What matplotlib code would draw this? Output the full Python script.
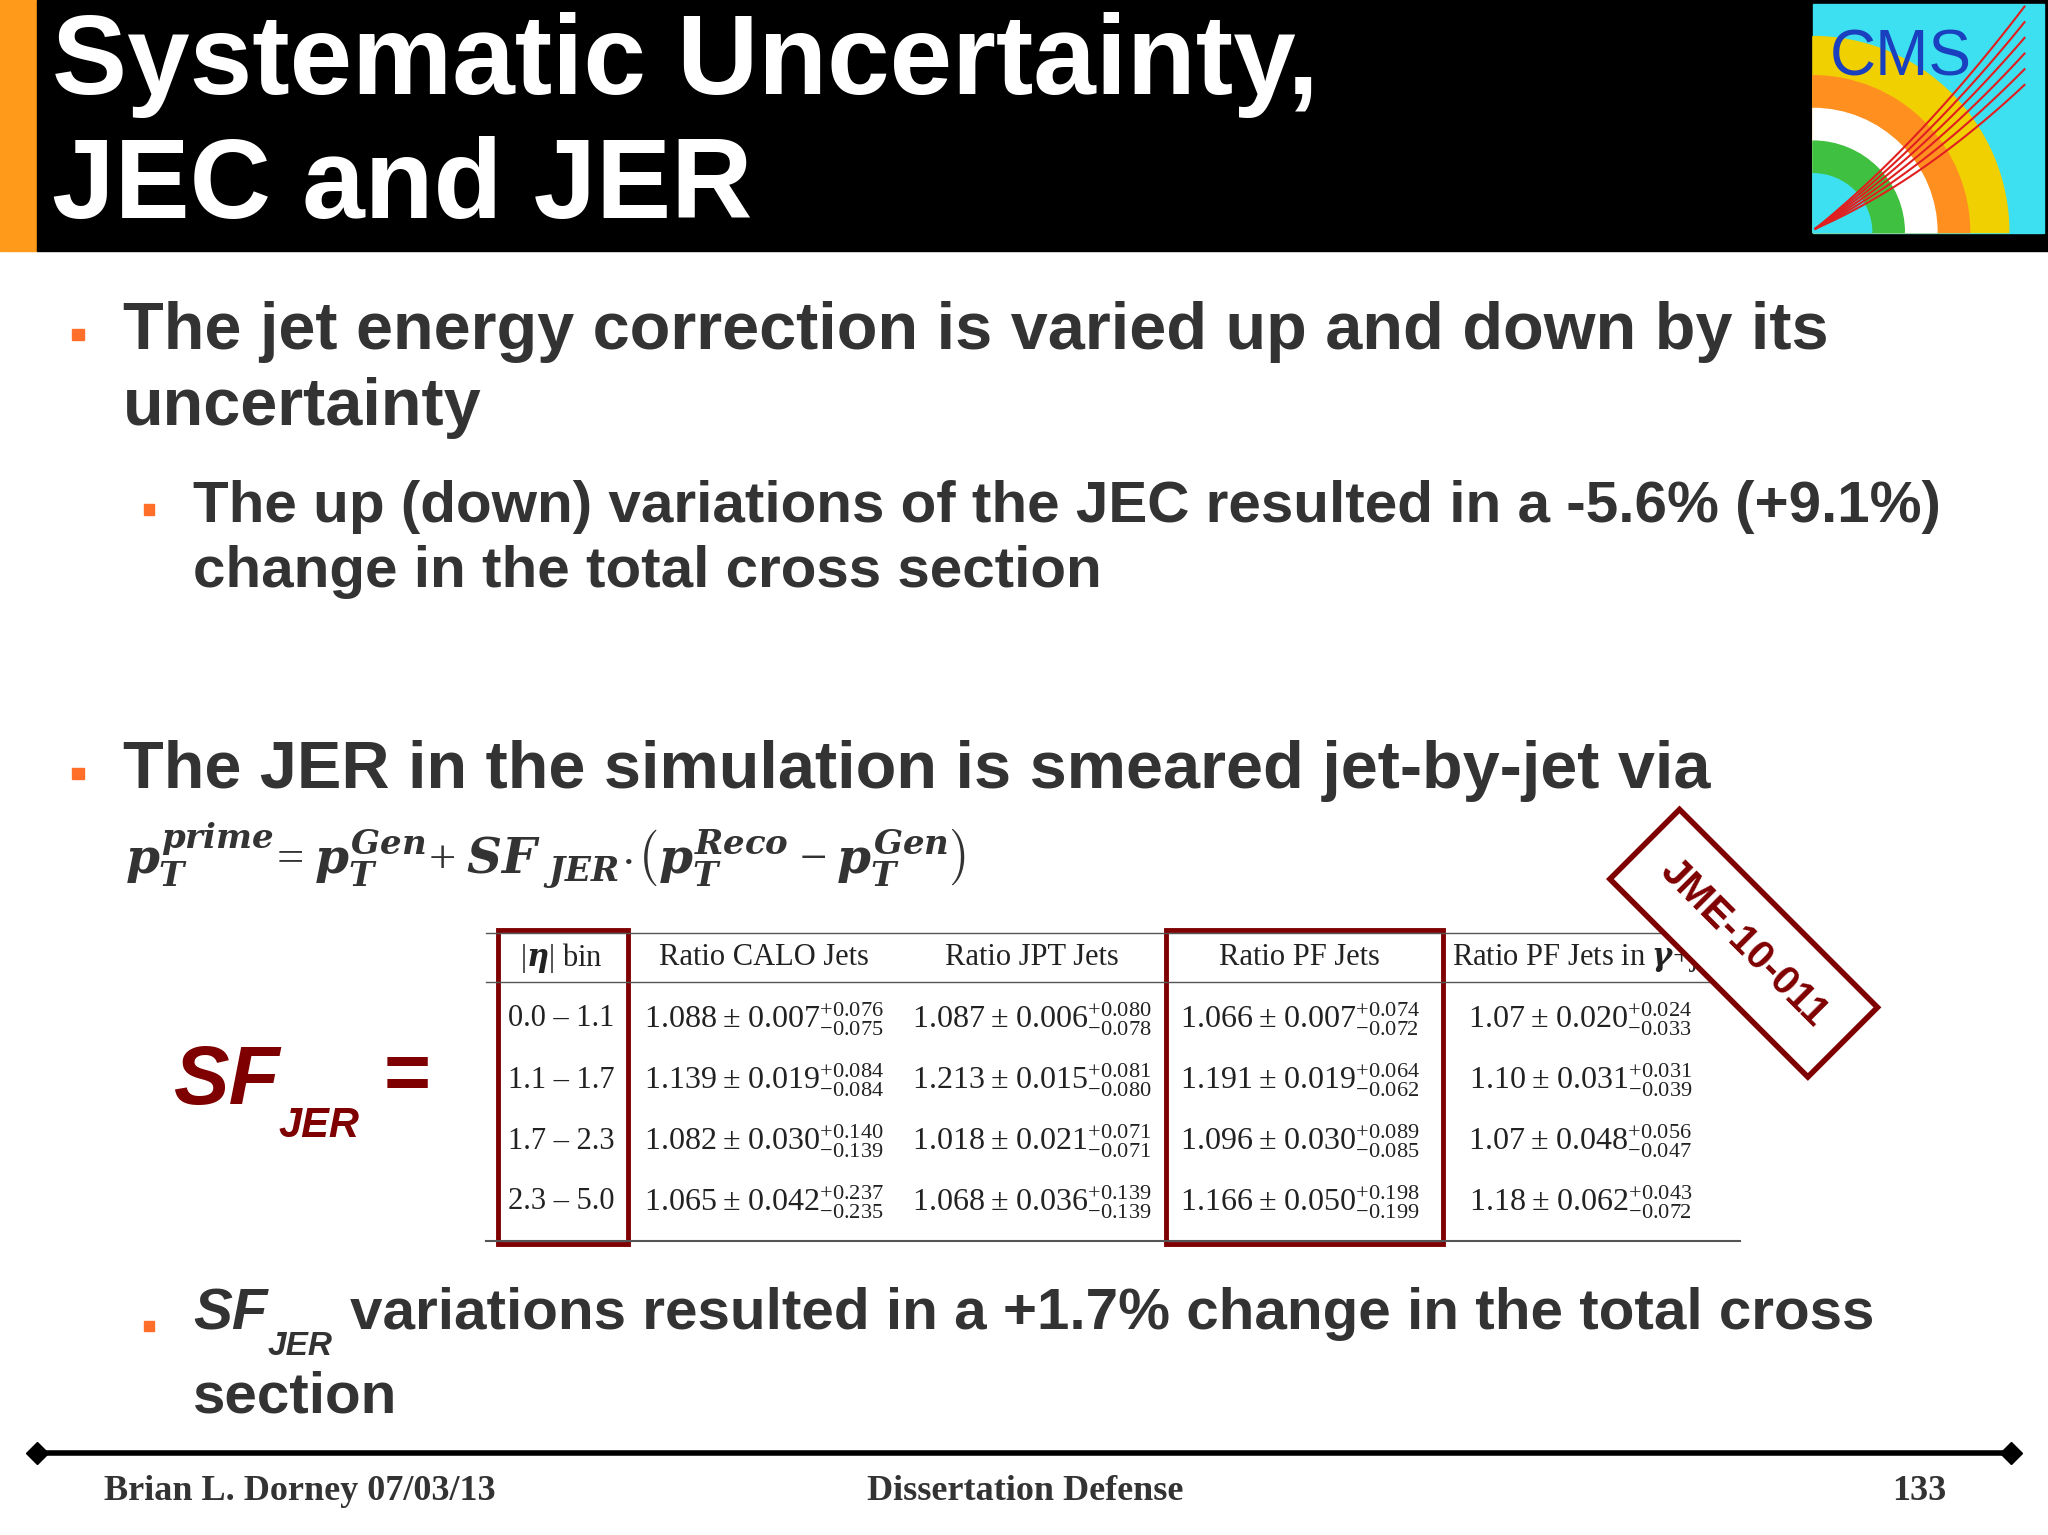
import numpy as np
import matplotlib.pyplot as plt
from matplotlib.patches import Rectangle, Wedge

plt.rcParams['mathtext.fontset'] = 'custom'
plt.rcParams['mathtext.it'] = 'DejaVu Serif:italic:bold'
plt.rcParams['mathtext.bf'] = 'DejaVu Serif:italic:bold'
plt.rcParams['mathtext.rm'] = 'Liberation Serif'

# table data
eta_bins = ['0.0 – 1.1', '1.1 – 1.7', '1.7 – 2.3', '2.3 – 5.0']
headers = [r'$|\eta|$ bin', 'Ratio CALO Jets', 'Ratio JPT Jets', 'Ratio PF Jets', r'Ratio PF Jets in $\gamma$+jets']
calo = [('1.088', '0.007', '0.076', '0.075'), ('1.139', '0.019', '0.084', '0.084'),
        ('1.082', '0.030', '0.140', '0.139'), ('1.065', '0.042', '0.237', '0.235')]
jpt = [('1.087', '0.006', '0.080', '0.078'), ('1.213', '0.015', '0.081', '0.080'),
       ('1.018', '0.021', '0.071', '0.071'), ('1.068', '0.036', '0.139', '0.139')]
pf = [('1.066', '0.007', '0.074', '0.072'), ('1.191', '0.019', '0.064', '0.062'),
      ('1.096', '0.030', '0.089', '0.085'), ('1.166', '0.050', '0.198', '0.199')]
gj = [('1.07', '0.020', '0.024', '0.033'), ('1.10', '0.031', '0.031', '0.039'),
      ('1.07', '0.048', '0.056', '0.047'), ('1.18', '0.062', '0.043', '0.072')]

W, H = 1568, 1175
fig = plt.figure(figsize=(20.48, 15.35), dpi=100)
ax = fig.add_axes([0, 0, 1, 1])
ax.set_xlim(0, W)
ax.set_ylim(H, 0)
ax.axis('off')

grey = '#333333'
orange = '#ff6f2a'
dred = '#7f0000'

# header
ax.add_patch(Rectangle((0, 0), 28, 192, color='#ff9a1a'))
ax.add_patch(Rectangle((28, 0), W - 28, 192, color='black'))
ax.text(40, 50, 'Systematic Uncertainty,', color='white', fontsize=81, fontweight='bold',
        family='Liberation Sans', va='center')
ax.text(40, 145, 'JEC and JER', color='white', fontsize=81, fontweight='bold',
        family='Liberation Sans', va='center')

# CMS logo (rough)
ax.add_patch(Rectangle((1388, 3), 177, 175, color='#3de0f0', zorder=2))
for r, c in [(150, '#f0d000'), (120, '#ff9020'), (95, '#ffffff'), (70, '#40c040'), (45, '#3de0f0')]:
    ax.add_patch(Wedge((1388, 178), r, 270, 360, color=c, zorder=3))
for k in range(6):
    t = np.linspace(0, 1, 30)
    ax.plot(1390 + t * 160, 175 - t * (110 + 12 * k) + 40 * t * (1 - t), color='#e02020', lw=1.5, zorder=4)
ax.text(1455, 45, 'CMS', color='#1a3fbf', fontsize=46, family='Liberation Sans', ha='center', va='center', zorder=5)

def bullet(x, y, s=9):
    ax.add_patch(Rectangle((x - s / 2, y - s / 2), s, s, color=orange))

tk = dict(color=grey, fontweight='bold', family='Liberation Sans', va='center')
bullet(60, 256)
ax.text(94, 254, 'The jet energy correction is varied up and down by its', fontsize=48, **tk)
ax.text(94, 312, 'uncertainty', fontsize=48, **tk)
bullet(114, 390, 8)
ax.text(148, 388, 'The up (down) variations of the JEC resulted in a -5.6% (+9.1%)', fontsize=42, **tk)
ax.text(148, 438, 'change in the total cross section', fontsize=42, **tk)
bullet(60, 592)
ax.text(94, 590, 'The JER in the simulation is smeared jet-by-jet via', fontsize=48, **tk)
ax.text(96, 655, r'$p_T^{prime}\!=p_T^{Gen}\!+SF_{\ JER}\!\cdot\!\left(p_T^{Reco}-p_T^{Gen}\right)$',
        fontsize=35, color=grey, va='center')

# SF_JER =
ax.text(133, 828, 'SF', color=dred, fontsize=60, fontweight='bold', style='italic',
        family='Liberation Sans', va='center')
ax.text(213, 862, 'JER', color=dred, fontsize=30, fontweight='bold', style='italic',
        family='Liberation Sans', va='center')
ax.text(294, 826, '=', color=dred, fontsize=58, fontweight='bold', family='Liberation Sans', va='center')

# table
xc = [430, 585, 790, 995, 1210]
ax.plot([372, 1332], [714, 714], color='#555555', lw=1)
ax.plot([372, 1332], [752, 752], color='#555555', lw=1)
ax.plot([372, 1332], [950, 950], color='#555555', lw=1.5)
for j, h in enumerate(headers):
    xh, ha = (1112, 'left') if j == 4 else (xc[j], 'center')
    ax.text(xh, 733, h, fontsize=22, family='Liberation Serif', ha=ha, va='center', color='#222222')
ry = [780, 827, 874, 920]
for i in range(4):
    ax.text(xc[0], ry[i], eta_bins[i], fontsize=22, family='Liberation Serif', ha='center', va='center', color='#222222')
    for j, col in enumerate([calo, jpt, pf, gj]):
        v, s, u, d = col[i]
        ax.text(xc[j + 1], ry[i], r'$\mathrm{%s \pm %s^{+%s}_{-%s}}$' % (v, s, u, d),
                fontsize=23, ha='center', va='center', color='#222222')
ax.add_patch(Rectangle((381, 712), 100, 240, fill=False, ec=dred, lw=3.5))
ax.add_patch(Rectangle((893, 712), 212, 240, fill=False, ec=dred, lw=3.5))

# stamp
ax.text(1335, 722, 'JME-10-011', rotation=-45, color=dred, fontsize=29, fontweight='bold',
        family='Liberation Sans', ha='center', va='center', rotation_mode='anchor', zorder=5,
        bbox=dict(boxstyle='square,pad=0.75', fc='white', ec=dred, lw=4))

# last bullet
bullet(114, 1015, 8)
ax.text(148, 1006, 'SF', fontsize=42, style='italic', **tk)
ax.text(205, 1031, 'JER', fontsize=24, style='italic', **tk)
ax.text(268, 1006, 'variations resulted in a +1.7% change in the total cross', fontsize=42, **tk)
ax.text(148, 1070, 'section', fontsize=42, **tk)

# footer
ax.plot([28, 1540], [1112, 1112], color='black', lw=4)
ax.plot([28, 1540], [1112, 1112], 'D', color='black', ms=11)
fk = dict(fontsize=26, fontweight='bold', family='Liberation Serif', color=grey, va='center')
ax.text(80, 1142, 'Brian L. Dorney 07/03/13', **fk)
ax.text(785, 1142, 'Dissertation Defense', ha='center', **fk)
ax.text(1490, 1142, '133', ha='right', **fk)

fig.savefig('out.png', dpi=100)
